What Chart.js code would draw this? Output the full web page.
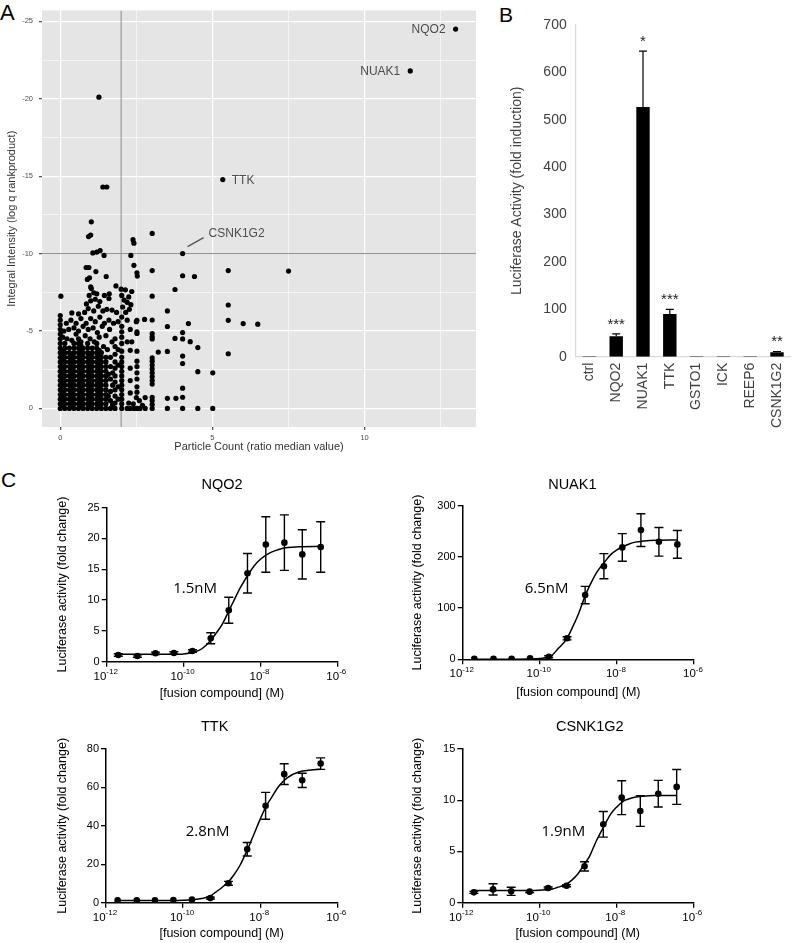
<!DOCTYPE html>
<html>
<head>
<meta charset="utf-8">
<title>Screen hits and dose response</title>
<script src="https://cdn.jsdelivr.net/npm/chart.js@4.4.1/dist/chart.umd.min.js"></script>
<style>
  html, body { margin: 0; padding: 0; background: #fff; }
  body { position: relative; width: 800px; height: 943px; overflow: hidden; font-family: "Liberation Sans", Arial, sans-serif; }
  canvas { position: absolute; }
  .panel { position: absolute; font-size: 21px; line-height: 21px; color: #000; }
</style>
</head>
<body>
<div class="panel" style="left:0px;top:2px;font-size:22px;line-height:22px">A</div>
<div class="panel" style="left:499px;top:4px">B</div>
<div class="panel" style="left:1px;top:469px">C</div>
<canvas id="screen" width="490" height="465" style="left:0;top:0"></canvas>
<canvas id="luc" width="310" height="445" style="left:490px;top:0"></canvas>
<canvas id="nqo2" width="310" height="240" style="left:50px;top:475px"></canvas>
<canvas id="nuak1" width="310" height="240" style="left:406px;top:475px"></canvas>
<canvas id="ttk" width="310" height="228" style="left:50px;top:715px"></canvas>
<canvas id="csnk" width="310" height="228" style="left:406px;top:715px"></canvas>
<script>
// ---------- A: imaging screen ----------
const hitNames = ['NQO2', 'NUAK1', 'TTK', 'CSNK1G2'];
const hitX = [12.99, 11.5, 5.34, 4.02];
const hitY = [-24.5, -21.8, -14.78, -10.0];
const countCutoff = 2;
const intensityCutoff = -10;

// dense block near the origin, one column per particle-count ratio
const screenCols = [
  [0.00, [0, -0.3, -0.6, -0.9, -1.2, -1.5, -1.8, -2.1, -2.4, -2.7, -3.0, -3.3, -3.6, -3.9, -4.2, -4.5, -4.8, -5.1, -5.4, -5.7, -6.0]],
  [0.15, [0, -0.3, -0.6, -0.9, -1.2, -1.5, -1.8, -2.1, -2.4, -2.7, -3.0, -3.3, -3.6, -3.9, -4.2]],
  [0.30, [0, -0.3, -0.6, -0.9, -1.2, -1.5, -1.8, -2.1, -2.4, -2.7, -3.0, -3.3, -3.6, -3.9]],
  [0.45, [0, -0.3, -0.6, -0.9, -1.2, -1.5, -1.8, -2.1, -2.4, -2.7, -3.0, -3.3, -3.6, -3.9, -4.2]],
  [0.60, [0, -0.3, -0.6, -0.9, -1.2, -1.5, -1.8, -2.1, -2.4, -2.7, -3.0, -3.3, -3.6, -3.9, -4.2, -4.5]],
  [0.75, [0, -0.3, -0.6, -0.9, -1.2, -1.5, -1.8, -2.1, -2.4, -2.7, -3.0, -3.3, -3.6, -3.9]],
  [0.90, [0, -0.3, -0.6, -0.9, -1.2, -1.5, -1.8, -2.1, -2.4, -2.7, -3.0, -3.3, -3.6, -3.9, -4.2]],
  [1.05, [0, -0.3, -0.6, -0.9, -1.2, -1.5, -1.8, -2.1, -2.4, -2.7, -3.0, -3.3, -3.6, -3.9]],
  [1.20, [0, -0.3, -0.6, -0.9, -1.2, -1.5, -1.8, -2.1, -2.4, -2.7, -3.0, -3.3, -3.6, -3.9, -4.2]],
  [1.35, [0, -0.3, -0.6, -0.9, -1.2, -1.5, -1.8, -2.1, -2.4, -2.7, -3.0, -3.3, -3.6]],
  [1.50, [0, -0.3, -0.6, -0.9, -1.2, -1.5, -1.8, -2.1, -2.4, -2.7, -3.0, -3.3]],
  // genes sitting between the main columns
  [0.08, [-0.15, -0.45, -0.75, -1.05, -1.35, -1.65, -1.95, -2.25, -2.55, -2.85, -3.15, -3.45, -3.75]],
  [0.38, [-0.15, -0.45, -0.75, -1.05, -1.35, -1.65, -1.95, -2.25, -2.55, -2.85, -3.15, -3.45]],
  [0.68, [-0.15, -0.45, -0.75, -1.05, -1.35, -1.65, -1.95, -2.25, -2.55, -2.85, -3.15, -3.45, -3.75, -4.05]],
  [0.98, [-0.15, -0.45, -0.75, -1.05, -1.35, -1.65, -1.95, -2.25, -2.55, -2.85, -3.15, -3.45]],
  [1.28, [-0.15, -0.45, -0.75, -1.05, -1.35, -1.65, -1.95, -2.25, -2.55, -2.85, -3.15, -3.45, -3.75]]
];

// scattered genes [particle count ratio, log q rankproduct]
const screenPts = [
  [0.08, -4.6], [0.22, -4.5], [0.38, -4.4], [0.52, -4.8], [0.68, -4.3], [0.82, -4.7], [0.98, -4.5], [1.12, -4.3], [1.28, -4.6], [1.42, -4.0], [1.55, -3.8],
  [0.12, -5.0], [0.28, -5.1], [0.45, -5.2], [0.6, -5.0], [0.75, -5.3], [0.92, -5.1], [1.08, -5.2], [1.22, -4.9], [1.38, -5.3], [1.5, -4.7], [1.62, -5.1],
  [0.2, -5.5], [0.35, -5.7], [0.52, -5.5], [0.68, -5.8], [0.85, -5.5], [1.0, -5.8], [1.15, -5.6], [1.3, -5.9], [1.45, -5.5], [1.6, -5.7], [1.75, -5.5], [1.9, -5.6],
  [0.38, -6.17], [0.6, -6.1], [0.8, -6.2], [0.92, -6.45], [1.1, -6.3], [1.25, -6.6], [1.4, -6.3], [1.53, -6.4], [1.7, -6.35], [1.85, -6.2],
  [0.86, -6.75], [1.0, -6.95], [1.15, -7.05], [1.3, -6.9], [1.45, -7.3], [1.2, -7.4], [0.95, -7.3], [1.02, -7.74], [1.0, -7.85], [1.6, -7.1], [1.61, -7.4], [1.1, -7.47],
  [0.02, -7.25],
  [1.83, -7.91], [2.0, -7.7], [2.14, -7.66], [2.35, -7.55], [2.02, -7.3], [2.1, -7.0], [2.25, -7.2], [2.2, -6.85], [2.32, -6.7], [2.05, -6.55], [2.27, -6.4], [2.15, -6.2],
  [2.02, -5.9], [2.2, -5.7], [2.5, -5.6], [2.77, -5.75], [3.02, -5.71], [2.02, -5.3], [2.3, -5.1],
  [2.02, 0], [2.02, -0.3], [2.02, -0.6], [2.02, -0.9], [2.02, -1.2], [2.02, -1.5], [2.02, -1.8], [2.02, -2.1], [2.02, -2.4], [2.02, -2.7], [2.02, -3.0], [2.02, -3.3], [2.02, -3.7], [2.02, -4.2], [2.02, -4.6], [2.02, -4.95],
  [1.8, 0], [1.8, -0.35], [1.8, -0.8], [1.8, -1.2], [1.8, -1.7], [1.8, -2.1], [1.8, -2.6], [1.8, -3.0], [1.8, -3.5], [1.8, -4.0], [1.8, -4.5],
  [1.65, 0], [1.65, -0.5], [1.65, -1.1], [1.65, -1.9], [1.65, -2.7], [1.65, -3.3], [1.7, -4.3],
  [1.72, -0.25], [1.72, -1.5], [1.72, -2.3], [1.9, -0.6], [1.9, -1.4], [1.9, -2.8], [1.9, -3.8], [1.58, -0.8], [1.58, -2.2],
  [2.2, 0], [2.3, 0], [2.42, 0], [2.52, 0], [2.62, 0], [2.79, 0], [2.25, -0.35], [2.4, -0.3], [2.6, -0.5], [2.7, -0.2], [2.5, -0.7], [2.79, -0.7],
  [2.3, -1.0], [2.52, -1.05], [2.52, -1.4], [2.3, -1.8], [2.52, -1.9], [2.52, -2.3], [2.3, -2.6], [2.52, -2.7], [2.52, -3.05], [2.52, -3.7], [2.3, -3.75],
  [2.2, -4.3], [2.35, -4.3], [2.52, -4.84], [2.52, -4.95], [2.52, -5.69],
  [3.02, 0], [3.02, -0.25], [3.02, -0.5], [3.02, -0.72], [3.02, -1.57], [3.02, -1.8], [3.02, -2.05], [3.02, -2.3], [3.02, -2.55], [3.02, -2.8], [3.02, -3.05], [3.02, -3.26],
  [3.02, -4.49], [3.02, -4.63], [3.02, -4.84], [3.22, -3.64],
  [3.52, 0], [3.52, -0.65], [3.8, -0.65], [3.52, -3.68], [3.52, -5.29], [3.52, -6.3], [3.77, -4.52], [3.77, -7.68],
  [4.02, 0], [4.02, -0.72], [4.02, -1.31], [4.02, -2.9], [4.02, -3.38], [4.02, -4.49], [4.02, -4.9], [4.27, -4.31], [4.21, -5.48],
  [4.52, 0], [4.52, -2.37], [4.52, -3.93], [5.01, 0], [5.01, -2.3], [5.52, -3.53], [5.52, -5.69], [5.52, -6.68], [6.01, -5.48], [6.49, -5.44],
  [3.02, -7.25], [4.02, -8.57], [4.41, -8.52], [3.02, -8.9], [5.52, -8.9], [7.5, -8.87], [2.52, -8.76], [2.53, -8.55], [1.51, -8.52],
  [0.89, -8.33], [0.96, -8.44], [1.17, -8.84], [0.85, -9.1], [0.94, -9.1], [2.42, -9.24], [2.32, -9.88], [1.07, -10.04], [1.2, -10.1], [1.31, -10.2], [1.44, -9.88],
  [2.39, -10.9], [2.42, -10.67], [3.02, -11.3], [0.93, -11.1], [1.0, -11.2], [1.02, -12.05], [1.40, -14.3], [1.53, -14.3], [1.27, -20.1]
];

// ---------- B: luciferase reporter ----------
const categories = ['ctrl', 'NQO2', 'NUAK1', 'TTK', 'GSTO1', 'ICK', 'REEP6', 'CSNK1G2'];
const foldInduction = [1, 43, 527, 90, 1, 1, 1, 9.5];
const foldErr = [0, 5, 118, 10, 0, 0, 0, 1.5];
const stars = ['', '***', '*', '***', '', '', '', '**'];

// ---------- C: dose response ----------
const doseM = [2.0e-12, 6.3e-12, 1.86e-11, 5.6e-11, 1.7e-10, 5.1e-10, 1.5e-9, 4.6e-9, 1.38e-8, 4.2e-8, 1.23e-7, 3.7e-7];
const curveM = [2e-12, 1e-11, 5e-11, 1e-10, 2e-10, 3e-10, 5e-10, 7e-10, 1e-9, 1.5e-9, 2e-9, 3e-9, 5e-9, 7e-9, 1e-8, 1.5e-8, 2e-8, 3e-8, 5e-8, 1e-7, 3.7e-7];
const decades = [1e-12, 1e-10, 1e-8, 1e-6];

const nqo2Mean = [1.09, 0.93, 1.36, 1.41, 1.74, 3.8, 8.34, 14.35, 19.0, 19.3, 17.4, 18.6];
const nqo2Err = [0.2, 0.2, 0.2, 0.2, 0.2, 0.9, 2.1, 3.2, 4.5, 4.5, 4.0, 4.1];
const nqo2Fit = [1.2, 1.2, 1.2, 1.25, 1.6, 2.1, 3.4, 4.6, 6.0, 8.2, 9.8, 12.0, 14.3, 15.6, 16.6, 17.4, 17.8, 18.2, 18.5, 18.65, 18.7];

const nuak1Mean = [1, 1, 1, 2, 5, 41, 125.6, 182, 218.7, 252.5, 229.7, 224.6];
const nuak1Err = [0, 0, 0, 0, 2, 3, 17, 24.5, 27, 32, 28, 27];
const nuak1Fit = [0, 0, 0.5, 1.5, 7, 21, 40, 62, 88, 124, 145, 170, 192, 205, 214, 221, 225, 229, 231, 232.5, 233];

const ttkMean = [1.2, 1.2, 1.2, 1.4, 1.6, 2.4, 10.1, 27.8, 50.4, 66.9, 63.7, 72.4];
const ttkErr = [0, 0, 0, 0, 0, 0.5, 1, 3.5, 7, 5.4, 3.7, 3];
const ttkFit = [1.2, 1.2, 1.2, 1.3, 1.7, 2.2, 3.4, 5.5, 7.8, 10.9, 14, 19.5, 29, 36, 43.5, 51, 55, 60.5, 65, 68, 69.5];

const csnkMean = [1.01, 1.3, 1.11, 1.08, 1.43, 1.66, 3.55, 7.65, 10.25, 8.95, 10.64, 11.3];
const csnkErr = [0.1, 0.55, 0.4, 0.1, 0.1, 0.1, 0.45, 1.25, 1.65, 1.5, 1.3, 1.7];
const csnkFit = [1.2, 1.2, 1.2, 1.22, 1.3, 1.5, 1.8, 2.2, 2.8, 3.8, 4.5, 6.0, 7.6, 8.6, 9.3, 9.9, 10.1, 10.3, 10.4, 10.45, 10.45];

const FONT = "'Liberation Sans', Arial, sans-serif";
Chart.defaults.font.family = FONT;

// ----- panel A -----
const screenData = [];
screenCols.forEach(([x, ys]) => ys.forEach(y => screenData.push({ x, y })));
screenPts.forEach(([x, y]) => screenData.push({ x, y }));
hitNames.forEach((n, i) => screenData.push({ x: hitX[i], y: hitY[i] }));

const isMajor = v => Number.isInteger(v / 5);

const screenDecor = {
  id: 'screenDecor',
  beforeDraw(chart) {
    const { ctx, chartArea: a } = chart;
    ctx.save();
    ctx.fillStyle = '#e5e5e5';
    ctx.fillRect(a.left, a.top, a.right - a.left, a.bottom - a.top);
    ctx.restore();
  },
  beforeDatasetsDraw(chart) {
    const { ctx, chartArea: a, scales: { x, y } } = chart;
    const cx = x.getPixelForValue(countCutoff);
    const cy = y.getPixelForValue(intensityCutoff);
    ctx.save();
    ctx.strokeStyle = '#8c8c8c';
    ctx.lineWidth = 1;
    ctx.beginPath();
    ctx.moveTo(cx, a.top); ctx.lineTo(cx, a.bottom);
    ctx.moveTo(a.left, cy); ctx.lineTo(a.right, cy);
    ctx.stroke();
    ctx.restore();
  },
  afterDatasetsDraw(chart) {
    const { ctx, scales: { x, y } } = chart;
    ctx.save();
    ctx.fillStyle = '#4d4d4d';
    ctx.font = '12px ' + FONT;
    ctx.textBaseline = 'middle';
    hitNames.forEach((name, i) => {
      const px = x.getPixelForValue(hitX[i]);
      const py = y.getPixelForValue(hitY[i]);
      if (name === 'TTK') {
        ctx.textAlign = 'left';
        ctx.fillText(name, px + 9, py + 1.5);
      } else if (name === 'CSNK1G2') {
        ctx.strokeStyle = '#555';
        ctx.lineWidth = 1.4;
        ctx.beginPath();
        ctx.moveTo(px + 5, py - 7); ctx.lineTo(px + 21, py - 16);
        ctx.stroke();
        ctx.textAlign = 'left';
        ctx.fillText(name, px + 26, py - 20);
      } else {
        ctx.textAlign = 'right';
        ctx.fillText(name, px - 10, py + 0.5);
      }
    });
    ctx.restore();
  }
};

new Chart(document.getElementById('screen'), {
  type: 'scatter',
  data: { datasets: [{ data: screenData, pointRadius: 2.6, pointBackgroundColor: '#000', pointBorderWidth: 0 }] },
  options: {
    responsive: false,
    animation: false,
    layout: { padding: { left: 0, top: 3, right: 14, bottom: 8 } },
    plugins: { legend: { display: false }, tooltip: { enabled: false } },
    scales: {
      x: {
        type: 'linear', min: -0.6, max: 13.66,
        afterBuildTicks: s => { s.ticks = [0, 2.5, 5, 7.5, 10, 12.5].map(v => ({ value: v })); },
        afterFit: s => { s.height = 30; },
        ticks: { font: { size: 7.5 }, color: '#4d4d4d', padding: 3, maxRotation: 0, autoSkip: false,
          callback: v => isMajor(v) ? String(v) : '' },
        grid: { color: '#fff', lineWidth: c => (c.tick && isMajor(c.tick.value)) ? 1.3 : 0.6,
          tickLength: 3, tickColor: c => (c.tick && isMajor(c.tick.value)) ? '#555' : 'rgba(0,0,0,0)' },
        border: { display: false },
        title: { display: true, text: 'Particle Count (ratio median value)', font: { size: 11 }, color: '#333',
          padding: { top: 0, bottom: 3.4 } }
      },
      y: {
        type: 'linear', reverse: true, min: -25.7, max: 1.2,
        afterBuildTicks: s => { s.ticks = [-25, -22.5, -20, -17.5, -15, -12.5, -10, -7.5, -5, -2.5, 0].map(v => ({ value: v })); },
        afterFit: s => { s.width = 42; },
        ticks: { font: { size: 7.5 }, color: '#4d4d4d', padding: 6, autoSkip: false,
          callback: v => isMajor(v) ? String(v) : '' },
        grid: { color: '#fff', lineWidth: c => (c.tick && isMajor(c.tick.value)) ? 1.3 : 0.6,
          tickLength: 3, tickColor: c => (c.tick && isMajor(c.tick.value)) ? '#555' : 'rgba(0,0,0,0)' },
        border: { display: false },
        title: { display: true, text: 'Integral Intensity (log q rankproduct)', font: { size: 11 }, color: '#333',
          padding: { top: 5.4, bottom: 0 } }
      }
    }
  },
  plugins: [screenDecor]
});

// ----- panel B -----
const lucDecor = {
  id: 'lucDecor',
  afterDatasetsDraw(chart) {
    const { ctx, scales: { x, y } } = chart;
    ctx.save();
    ctx.strokeStyle = '#000';
    ctx.fillStyle = '#000';
    ctx.lineWidth = 1.2;
    foldInduction.forEach((v, i) => {
      if (!foldErr[i]) return;
      const px = x.getPixelForValue(i);
      const base = y.getPixelForValue(v);
      const top = y.getPixelForValue(v + foldErr[i]);
      ctx.beginPath();
      ctx.moveTo(px, base); ctx.lineTo(px, top);
      ctx.moveTo(px - 4, top); ctx.lineTo(px + 4, top);
      ctx.stroke();
      if (stars[i]) {
        ctx.font = '15px ' + FONT;
        ctx.textAlign = 'center';
        ctx.textBaseline = 'alphabetic';
        ctx.fillStyle = '#222';
        ctx.fillText(stars[i], px, top - 5);
      }
    });
    ctx.restore();
  }
};

new Chart(document.getElementById('luc'), {
  type: 'bar',
  data: { labels: categories, datasets: [{ data: foldInduction, backgroundColor: '#000', barPercentage: 0.5, categoryPercentage: 1 }] },
  options: {
    responsive: false,
    animation: false,
    layout: { padding: { left: 0, top: 25, right: 3, bottom: 3.3 } },
    plugins: { legend: { display: false }, tooltip: { enabled: false } },
    scales: {
      x: {
        grid: { display: false, drawTicks: false },
        border: { color: '#d9d9d9', width: 1.2 },
        ticks: { minRotation: 90, maxRotation: 90, autoSkip: false, padding: 6, font: { size: 14 }, color: '#404040' },
        afterFit: s => { s.height = 85; }
      },
      y: {
        min: 0, max: 700,
        ticks: { stepSize: 100, padding: 9.3, font: { size: 14 }, color: '#404040' },
        grid: { display: false, drawTicks: false },
        border: { color: '#d9d9d9', width: 1.2 },
        title: { display: true, text: 'Luciferase Activity (fold induction)', font: { size: 14 }, color: '#404040',
          padding: { top: 18.6, bottom: 0 } },
        afterFit: s => { s.width = 86; }
      }
    }
  },
  plugins: [lucDecor]
});

// ----- panel C -----
function doseChart(id, s) {
  const decor = {
    id: 'doseDecor',
    afterDatasetsDraw(chart) {
      const { ctx, chartArea: a, scales: { x, y } } = chart;
      ctx.save();
      ctx.strokeStyle = '#000';
      ctx.lineWidth = 1.4;
      s.mean.forEach((v, i) => {
        const e = s.err[i];
        if (!e) return;
        const px = x.getPixelForValue(doseM[i]);
        const t = y.getPixelForValue(v + e);
        const b = y.getPixelForValue(Math.max(v - e, 0));
        ctx.beginPath();
        ctx.moveTo(px, t); ctx.lineTo(px, b);
        ctx.moveTo(px - 4.5, t); ctx.lineTo(px + 4.5, t);
        ctx.moveTo(px - 4.5, b); ctx.lineTo(px + 4.5, b);
        ctx.stroke();
      });
      ctx.fillStyle = '#000';
      ctx.textAlign = 'center';
      ctx.textBaseline = 'middle';
      ctx.font = "15px 'Open Sans', sans-serif";
      ctx.fillText(s.ec50, x.getPixelForValue(s.ec50At[0]), y.getPixelForValue(s.ec50At[1]));
      ctx.font = '14.5px ' + FONT;
      ctx.fillText(s.title, (a.left + a.right) / 2 + s.titleDx, a.top - s.titleUp);
      ctx.restore();
    },
    afterDraw(chart) {
      const { ctx, chartArea: a, scales: { x } } = chart;
      ctx.save();
      ctx.fillStyle = '#000';
      ctx.textAlign = 'left';
      ctx.textBaseline = 'alphabetic';
      x.ticks.forEach(t => {
        const px = x.getPixelForValue(t.value);
        const exp = String(Math.round(Math.log10(t.value)));
        ctx.font = '11.5px ' + FONT;
        const w1 = ctx.measureText('10').width;
        ctx.font = '8px ' + FONT;
        const w2 = ctx.measureText(exp).width;
        const x0 = px - (w1 + w2) / 2 - 1;
        ctx.font = '11.5px ' + FONT;
        ctx.fillText('10', x0, a.bottom + 17.8);
        ctx.font = '8px ' + FONT;
        ctx.fillText(exp, x0 + w1, a.bottom + 12.5);
      });
      ctx.restore();
    }
  };

  return new Chart(document.getElementById(id), {
    type: 'scatter',
    data: {
      datasets: [
        { data: curveM.map((m, i) => ({ x: m, y: s.fit[i] })), showLine: true, pointRadius: 0,
          borderColor: '#000', borderWidth: 1.5, cubicInterpolationMode: 'monotone', order: 2 },
        { data: doseM.map((m, i) => ({ x: m, y: s.mean[i] })), pointRadius: 3.3,
          pointBackgroundColor: '#000', pointBorderWidth: 0, order: 1 }
      ]
    },
    options: {
      responsive: false,
      animation: false,
      layout: { padding: s.pad },
      plugins: { legend: { display: false }, tooltip: { enabled: false } },
      scales: {
        x: {
          type: 'logarithmic', min: 1e-12, max: 1e-6,
          afterBuildTicks: sc => { sc.ticks = decades.map(v => ({ value: v })); },
          afterFit: sc => { sc.height = s.xh; },
          ticks: { display: false },
          grid: { drawOnChartArea: false, tickLength: 5, tickColor: '#000', lineWidth: 1.3 },
          border: { color: '#000', width: 1.5 },
          title: { display: true, text: '[fusion compound] (M)', font: { size: 12.5 }, color: '#000',
            padding: { top: 0, bottom: s.xtp } }
        },
        y: {
          min: 0, max: s.yMax,
          ticks: { stepSize: s.yStep, font: { size: 11 }, color: '#000', padding: 2 },
          grid: { drawOnChartArea: false, tickLength: 5, tickColor: '#000', lineWidth: 1.3 },
          border: { color: '#000', width: 1.5 },
          title: { display: true, text: 'Luciferase activity (fold change)', font: { size: 12.5 }, color: '#000',
            padding: { top: s.ytp, bottom: 0 } },
          afterFit: sc => { sc.width = s.yw; }
        }
      }
    },
    plugins: [decor]
  });
}

doseChart('nqo2', {
  title: 'NQO2', mean: nqo2Mean, err: nqo2Err, fit: nqo2Fit, yMax: 25, yStep: 5,
  ec50: '1.5nM', ec50At: [2.0e-10, 11.8],
  pad: { left: 0, top: 32.5, right: 22.7, bottom: 3.3 }, yw: 56.7, xh: 50, ytp: 5.5, xtp: 10.2, titleUp: 22.5, titleDx: 0
});
doseChart('nuak1', {
  title: 'NUAK1', mean: nuak1Mean, err: nuak1Err, fit: nuak1Fit, yMax: 300, yStep: 100,
  ec50: '6.5nM', ec50At: [1.5e-10, 137],
  pad: { left: 0, top: 30.8, right: 22, bottom: 5.7 }, yw: 56.7, xh: 50, ytp: 4.5, xtp: 9.1, titleUp: 20.8, titleDx: -6
});
doseChart('ttk', {
  title: 'TTK', mean: ttkMean, err: ttkErr, fit: ttkFit, yMax: 80, yStep: 20,
  ec50: '2.8nM', ec50At: [4.3e-10, 36.7],
  pad: { left: 0, top: 34, right: 22.7, bottom: 0.3 }, yw: 56, xh: 40, ytp: 5.5, xtp: 1.2, titleUp: 22.3, titleDx: -7
});
doseChart('csnk', {
  title: 'CSNK1G2', mean: csnkMean, err: csnkErr, fit: csnkFit, yMax: 15, yStep: 5,
  ec50: '1.9nM', ec50At: [4.2e-10, 6.9],
  pad: { left: 0, top: 34, right: 22.7, bottom: 0.3 }, yw: 56.3, xh: 40, ytp: 4.5, xtp: 1.2, titleUp: 22.3, titleDx: 12
});
</script>
</body>
</html>
